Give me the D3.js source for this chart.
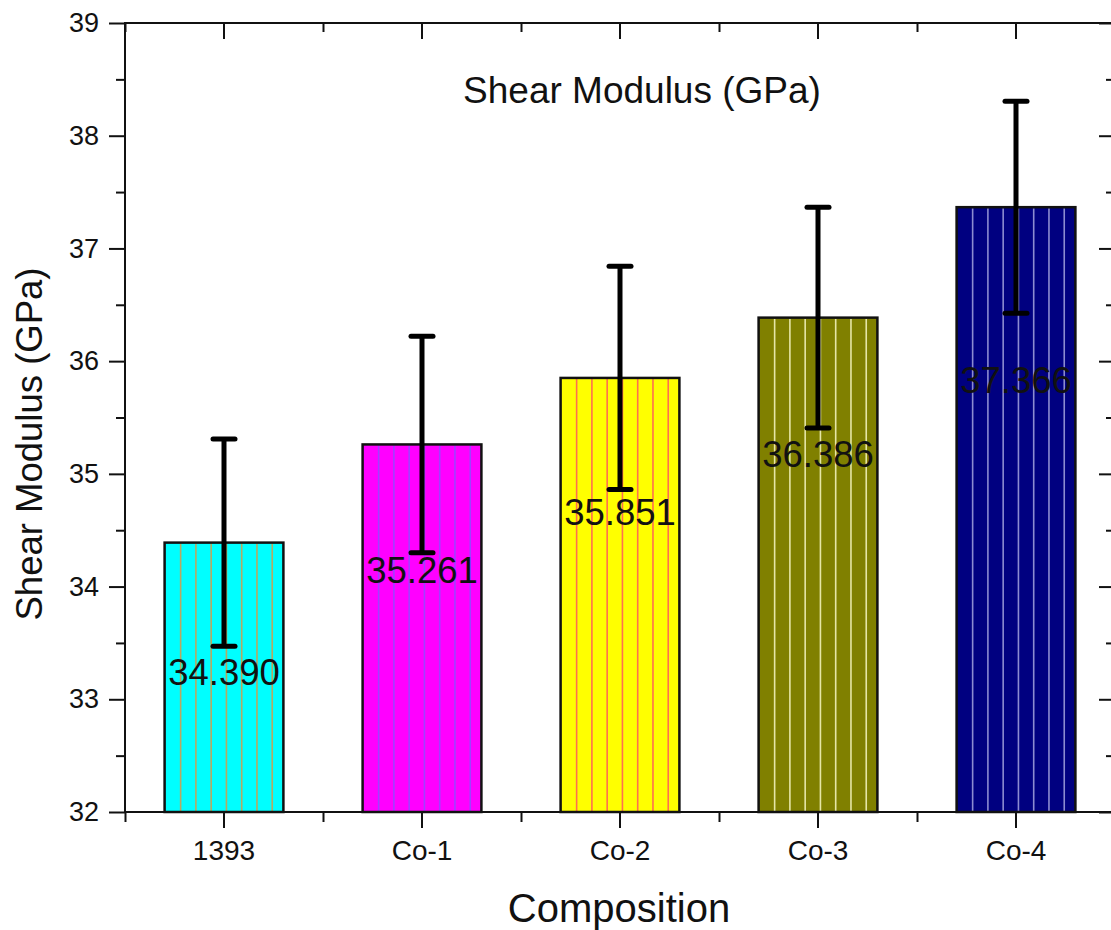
<!DOCTYPE html>
<html>
<head>
<meta charset="utf-8">
<script src="https://cdn.jsdelivr.net/npm/d3@7"></script>
<style>
  html, body { margin: 0; padding: 0; background: #fff; }
  svg { display: block; font-family: "Liberation Sans", Arial, sans-serif; }
</style>
</head>
<body>
<svg id="chart" width="1111" height="930"></svg>
<script>
// Shear modulus by composition
const categories = ["1393", "Co-1", "Co-2", "Co-3", "Co-4"];
const shearModulus = [34.390, 35.261, 35.851, 36.386, 37.366];
const errors = [0.92, 0.96, 0.99, 0.98, 0.94];
const labelAnchor = [33.13, 34.03, 34.55, 35.06, 35.72]; // baseline of value labels, GPa
const yTicks = [32, 33, 34, 35, 36, 37, 38, 39];
const fills = ["#00ffff", "#ff00ff", "#ffff00", "#808000", "#000080"];
const hatch = ["#b8a860", "#a040ff", "#ff7050", "#e6e6a6", "#8c8cd0"];

const m = { left: 125, top: 23, right: 1115, bottom: 812 };

const svg = d3.select("#chart");

const x = d3.scaleBand()
  .domain(categories)
  .range([m.left, m.right])
  .paddingInner(0.4)
  .paddingOuter(0.2);

const xEdge = d3.scaleLinear().domain([0, categories.length]).range([m.left, m.right]);

const y = d3.scaleLinear().domain([32, 39]).range([m.bottom, m.top]);
const yMinor = d3.range(32.5, 39, 1);

// Bars
const bars = svg.append("g").selectAll("g.bar")
  .data(categories)
  .join("g")
  .attr("class", "bar");

bars.append("rect")
  .attr("x", d => x(d))
  .attr("y", (d, i) => y(shearModulus[i]))
  .attr("width", x.bandwidth())
  .attr("height", (d, i) => y(32) - y(shearModulus[i]))
  .attr("fill", (d, i) => fills[i]);

// Vertical hatch lines inside each bar
bars.each(function (d, i) {
  const g = d3.select(this);
  const w = x.bandwidth();
  const x0 = x(d);
  d3.range(7).forEach(k => {
    const xx = x0 + w * (0.135 + k * 0.1285);
    g.append("line")
      .attr("x1", xx).attr("x2", xx)
      .attr("y1", y(shearModulus[i]) + 1).attr("y2", y(32))
      .attr("stroke", hatch[i])
      .attr("stroke-width", 1.6);
  });
});

bars.append("rect")
  .attr("x", d => x(d))
  .attr("y", (d, i) => y(shearModulus[i]))
  .attr("width", x.bandwidth())
  .attr("height", (d, i) => y(32) - y(shearModulus[i]))
  .attr("fill", "none")
  .attr("stroke", "#111")
  .attr("stroke-width", 2.5);

// Value labels
svg.append("g").selectAll("text")
  .data(categories)
  .join("text")
  .attr("x", d => x(d) + x.bandwidth() / 2)
  .attr("y", (d, i) => y(labelAnchor[i]))
  .attr("text-anchor", "middle")
  .attr("font-size", 36.5)
  .attr("fill", "#111")
  .text((d, i) => shearModulus[i].toFixed(3));

// Error bars
const eb = svg.append("g").attr("stroke", "#000").attr("stroke-width", 5);
categories.forEach((c, i) => {
  const cx = x(c) + x.bandwidth() / 2;
  const hi = y(shearModulus[i] + errors[i]);
  const lo = y(shearModulus[i] - errors[i]);
  eb.append("line").attr("x1", cx).attr("x2", cx).attr("y1", hi).attr("y2", lo);
  [hi, lo].forEach(yy => {
    eb.append("line")
      .attr("x1", cx - 11).attr("x2", cx + 11)
      .attr("y1", yy).attr("y2", yy)
      .attr("stroke-linecap", "round");
  });
});

// Axes
function styleAxis(g) {
  g.selectAll("path.domain").remove();
  g.selectAll(".tick line").attr("stroke", "#111").attr("stroke-width", 2);
  g.selectAll(".tick text").attr("fill", "#111");
}

// Left axis
svg.append("g")
  .attr("transform", `translate(${m.left},0)`)
  .call(d3.axisLeft(y).tickValues(yTicks).tickSize(16).tickPadding(10).tickFormat(d3.format("d")))
  .call(styleAxis)
  .call(g => g.selectAll(".tick text").attr("font-size", 27).attr("font-family", "Liberation Sans, Arial, sans-serif"));
svg.append("g")
  .attr("transform", `translate(${m.left},0)`)
  .call(d3.axisLeft(y).tickValues(yMinor).tickSize(9).tickFormat(""))
  .call(styleAxis);

// Right axis (ticks inward)
svg.append("g")
  .attr("transform", `translate(${m.right},0)`)
  .call(d3.axisLeft(y).tickValues(yTicks).tickSize(16).tickFormat(""))
  .call(styleAxis);
svg.append("g")
  .attr("transform", `translate(${m.right},0)`)
  .call(d3.axisLeft(y).tickValues(yMinor).tickSize(9).tickFormat(""))
  .call(styleAxis);

// Bottom axis
svg.append("g")
  .attr("transform", `translate(0,${m.bottom})`)
  .call(d3.axisBottom(x).tickSize(16).tickPadding(12))
  .call(styleAxis)
  .call(g => g.selectAll(".tick text").attr("font-size", 28).attr("font-family", "Liberation Sans, Arial, sans-serif"));
svg.append("g")
  .attr("transform", `translate(0,${m.bottom})`)
  .call(d3.axisBottom(xEdge).tickValues(d3.range(categories.length + 1)).tickSize(10).tickFormat(""))
  .call(styleAxis);

// Top axis (ticks inward)
svg.append("g")
  .attr("transform", `translate(0,${m.top})`)
  .call(d3.axisBottom(x).tickSize(16).tickFormat(""))
  .call(styleAxis);
svg.append("g")
  .attr("transform", `translate(0,${m.top})`)
  .call(d3.axisBottom(xEdge).tickValues(d3.range(categories.length + 1)).tickSize(9).tickFormat(""))
  .call(styleAxis);

// Frame
svg.append("rect")
  .attr("x", m.left).attr("y", m.top)
  .attr("width", m.right - m.left).attr("height", m.bottom - m.top)
  .attr("fill", "none").attr("stroke", "#111").attr("stroke-width", 2);

// Titles
svg.append("text")
  .attr("x", 642).attr("y", 103)
  .attr("text-anchor", "middle")
  .attr("font-size", 37)
  .attr("fill", "#111")
  .text("Shear Modulus (GPa)");

svg.append("text")
  .attr("x", 619).attr("y", 922)
  .attr("text-anchor", "middle")
  .attr("font-size", 40)
  .attr("fill", "#111")
  .text("Composition");

svg.append("text")
  .attr("transform", `translate(42,444) rotate(-90)`)
  .attr("text-anchor", "middle")
  .attr("font-size", 36.5)
  .attr("fill", "#111")
  .text("Shear Modulus (GPa)");
</script>
</body>
</html>
